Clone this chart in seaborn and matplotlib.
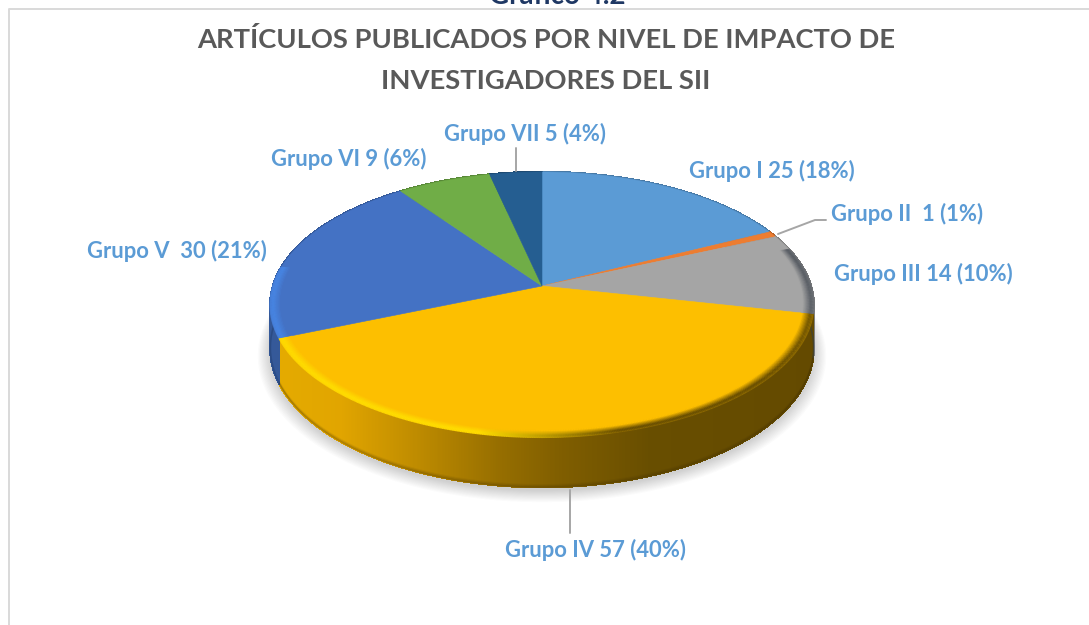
#!/usr/bin/env python

import numpy as np
import seaborn as sns
import matplotlib.pyplot as plt
from matplotlib.collections import LineCollection, PolyCollection

# read in the data
grupos = ["Grupo I", "Grupo II ", "Grupo III", "Grupo IV", "Grupo V ", "Grupo VI", "Grupo VII"]
articulos = [25, 1, 14, 57, 30, 9, 5]
porcentajes = [18, 1, 10, 40, 21, 6, 4]
titulo = "ARTÍCULOS PUBLICADOS POR NIVEL DE IMPACTO DE\nINVESTIGADORES DEL SII"
encabezado = "Gráfico 4.2"

sns.set_theme(style="white")
plt.rcParams["font.family"] = ["Lato", "DejaVu Sans"]
palette = sns.color_palette(["#5b9bd5", "#ed7d31", "#a5a5a5", "#fdbf00", "#4472c4", "#70ad47", "#255e91"])

# label anchors in pixels (left edge, middle)
label_xy = [(689, 171), (831, 214), (834, 274), (505, 550), (87, 251), (271, 159), (444, 134)]

# pie geometry: a circle seen in perspective
CX, CY, RX, RY, PERSP, DEPTH = 542, 286, 269, 130, 0.14, 43


def project(theta, scale=1.0, depth=0.0):
    u, v = np.sin(theta) * scale, np.cos(theta) * scale
    w = 1 + PERSP * v
    return CX + RX * u / w, CY + (depth - RY * v) / w


def side_colour(index, x):
    if index == 3:
        stops = [283, 340, 400, 500, 560, 650, 815]
        r = np.interp(x, stops, [228, 225, 198, 150, 128, 104, 100])
        g = np.interp(x, stops, [170, 165, 145, 110, 94, 78, 74])
        return (r / 255, g / 255, 0)
    base = np.array(palette[index])
    return tuple(base * 0.78)


def bevel_colour(index, x):
    if index == 3:
        t = np.clip((x - 480) / 140, 0, 1)
        return tuple((1 - t) * np.array([1.0, 0.87, 0.0]) + t * np.array([0.39, 0.29, 0.0]))
    if index == 4:
        return (0.28, 0.53, 0.90)
    return (0.33, 0.35, 0.38)


figure, axis = plt.subplots(figsize=(10.89, 6.25), dpi=100)
axis.set_position([0, 0, 1, 1])
axis.set_xlim(0, 1089)
axis.set_ylim(625, 0)
axis.axis("off")

# chart frame
axis.plot([9, 9, 1089], [625, 9, 9], color="#d9d9d9", lw=1.4, zorder=1)

edges = 2 * np.pi * np.concatenate([[0], np.cumsum(articulos)]) / sum(articulos)

# soft shadow under the pie
ring = np.linspace(0, 2 * np.pi, 361)
for grow in np.linspace(0.045, 0.0, 12):
    sx, sy = project(ring, 1 + grow, DEPTH + 3 + grow * 60)
    axis.fill(sx, sy, color="#555555", alpha=0.024, lw=0, zorder=2)

# side wall, one thin strip per step
for i in range(len(articulos)):
    theta = np.linspace(edges[i], edges[i + 1], max(3, int((edges[i + 1] - edges[i]) * 180)))
    tx, ty = project(theta)
    bx, by = project(theta, 1, DEPTH)
    strips = [[(tx[j], ty[j]), (tx[j + 1], ty[j + 1]), (bx[j + 1], by[j + 1]), (bx[j], by[j])]
              for j in range(len(theta) - 1)]
    colours = [side_colour(i, tx[j]) for j in range(len(theta) - 1)]
    axis.add_collection(PolyCollection(strips, facecolors=colours, edgecolors=colours, linewidths=1.0,
                                       antialiaseds=False, zorder=3))
    # darker line on the lower edge of the wall
    for lift, alpha in [(0, 0.25), (1, 0.15), (2, 0.07)]:
        lx, ly = project(theta, 1, DEPTH - lift)
        axis.plot(lx, ly, color="#3a2a00" if i == 3 else "#1f3a68", alpha=alpha, lw=1.1, zorder=3.5)

# top face
for i, colour in enumerate(palette):
    theta = np.linspace(edges[i], edges[i + 1], max(3, int((edges[i + 1] - edges[i]) * 180)))
    fx, fy = project(theta)
    axis.fill(np.r_[CX, fx], np.r_[CY, fy], color=colour, lw=0.4, zorder=4)

# bevel along the visible rim
for i in [2, 3, 4]:
    start = edges[i]
    stop = edges[i + 1]
    if i == 2:
        start = np.pi / 2 - 0.3
    if i == 4:
        stop = 1.5 * np.pi + 0.15
    theta = np.linspace(start, stop, int((stop - start) * 180))
    base = np.array(palette[i])
    scales = np.linspace(1.0, 0.96, 10)
    for k, scale in enumerate(scales):
        px, py = project(theta, scale)
        segments = [[(px[j], py[j]), (px[j + 1], py[j + 1])] for j in range(len(theta) - 1)]
        t = k / (len(scales) - 1)
        strength = np.interp(t, [0, 0.3, 1], [0.8, 1, 0])
        colours = [tuple(strength * np.array(bevel_colour(i, px[j])) + (1 - strength) * base)
                   for j in range(len(theta) - 1)]
        axis.add_collection(LineCollection(segments, colors=colours, linewidths=1.3, zorder=5))

# leader lines
axis.plot([778, 815, 826], [234, 220, 220], color="#a6a6a6", lw=1.4, zorder=6)
axis.plot([570, 570], [490, 533], color="#a6a6a6", lw=1.4, zorder=6)
axis.plot([516, 516], [148, 171], color="#a6a6a6", lw=1.4, zorder=6)

# data labels
for nombre, n, pct, (x, y) in zip(grupos, articulos, porcentajes, label_xy):
    axis.text(x, y, f"{nombre} {n} ({pct}%)", color="#5b9bd5", fontsize=15.8, fontweight="bold",
              ha="left", va="center", zorder=7)

axis.text(546, 39, titulo.split("\n")[0], color="#595959", fontsize=19.7, fontweight="bold",
          ha="center", va="center", zorder=7)
axis.text(546, 81, titulo.split("\n")[1], color="#595959", fontsize=19.7, fontweight="bold",
          ha="center", va="center", zorder=7)
axis.text(557, 4, encabezado, color="#1f3864", fontsize=20, fontweight="bold",
          ha="center", va="baseline", zorder=7)

plt.savefig("out.png", dpi=100)
